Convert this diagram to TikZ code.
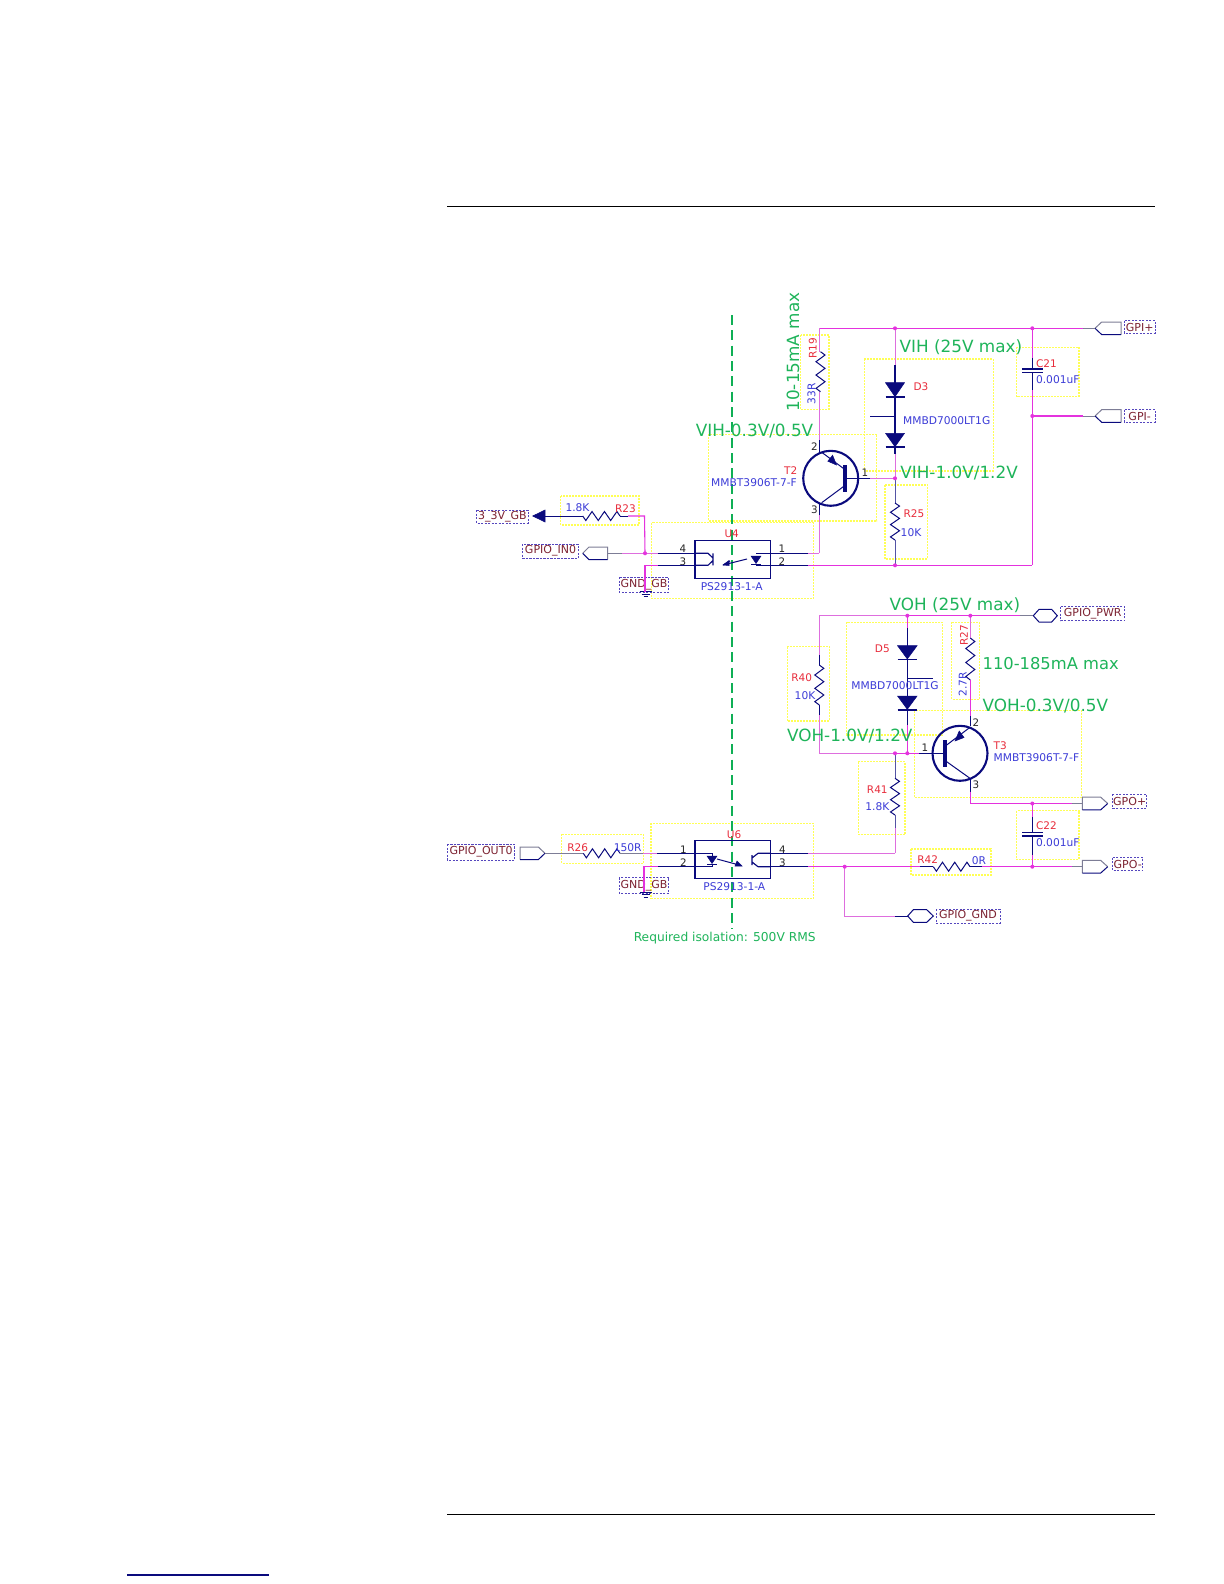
\documentclass[tikz,border=0pt]{standalone}
\usepackage{fontspec}
\setmainfont{DejaVu Sans}
\usetikzlibrary{arrows.meta}
\definecolor{wiremag}{RGB}{228,50,222}
\definecolor{wirelite}{RGB}{222,110,222}
\definecolor{navy}{RGB}{10,10,125}
\definecolor{boxyel}{RGB}{255,255,85}
\definecolor{refred}{RGB}{232,45,60}
\definecolor{valblue}{RGB}{60,60,215}
\definecolor{netred}{RGB}{125,35,50}
\definecolor{notegreen}{RGB}{30,180,90}
\definecolor{isogreen}{RGB}{15,175,85}
\definecolor{markgray}{RGB}{125,125,150}
\definecolor{netedge}{RGB}{85,70,190}
\tikzset{
  mag/.style={draw=wiremag,line width=.65pt},
  lite/.style={draw=wirelite,line width=.6pt},
  dark/.style={draw=navy,line width=.6pt},
  thickbar/.style={draw=navy,line width=1.9pt},
  ring/.style={draw=navy,line width=1.25pt},
  res/.style={draw=navy,line width=.6pt,line join=miter},
  yel/.style={draw=boxyel,line width=.65pt,dash pattern=on 1.2pt off .6pt},
  netb/.style={draw=netedge,line width=.4pt,dash pattern=on 1.3pt off .8pt},
  junc/.style={circle,fill=wiremag,inner sep=0pt,minimum size=2.4pt},
  redt/.style={text=refred,inner sep=0pt,font=\fontsize{6.3}{7}\selectfont},
  bluet/.style={text=valblue,inner sep=0pt,font=\fontsize{6.4}{7}\selectfont},
  nett/.style={text=netred,inner sep=0pt,font=\fontsize{6.6}{7}\selectfont},
  greent/.style={text=notegreen,inner sep=0pt,font=\fontsize{10.1}{12}\selectfont},
  pint/.style={text=black!85,inner sep=0pt,font=\fontsize{6.2}{7}\selectfont},
  markp/.style={draw=markgray,line width=.6pt},
  markd/.style={draw=navy,line width=.6pt},
  diodef/.style={fill=navy,draw=navy,line width=.3pt},
}
% vertical and horizontal resistor zigzags: #1 fixed, #2 #3 range
\newcommand{\zigv}[3]{\pgfmathsetmacro{\hh}{(#3-#2)/12}%
  \draw[res] (#1,#2) -- ++(4.5,\hh) -- ++(-9,2*\hh) -- ++(9,2*\hh) -- ++(-9,2*\hh) -- ++(9,2*\hh) -- ++(-9,2*\hh) -- ++(4.5,\hh);}
\newcommand{\zigh}[3]{\pgfmathsetmacro{\hh}{(#3-#2)/12}%
  \draw[res] (#2,#1) -- ++(\hh,4.5) -- ++(2*\hh,-9) -- ++(2*\hh,9) -- ++(2*\hh,-9) -- ++(2*\hh,9) -- ++(2*\hh,-9) -- ++(\hh,4.5);}
% net label box: name, x1, y1, x2, y2, text
\newcommand{\netbox}[6]{\draw[netb] (#2,#3) rectangle (#4,#5);
  \node[nett] (#1) at ({(#2+#4)/2},{(#3+#5)/2}) {#6};}
% diode pointing down: x, top y, tip y, half width
\newcommand{\diodeshape}[4]{\draw[diodef] (#1-#4,#2) -- (#1+#4,#2) -- (#1,#3) -- cycle;
  \draw[dark,line width=.9pt] (#1-#4,#3+.5) -- (#1+#4,#3+.5);}
% right-pointing marker: name, xleft, xshoulder, xtip, yc
\newcommand{\mkright}[5]{\coordinate (#1) at (#2,#5);
  \draw[markp] (#4,#5) -- (#3,#5-6.3) -- (#2,#5-6.3) -- (#2,#5+6.3);
  \draw[markd] (#2,#5+6.3) -- (#3,#5+6.3) -- (#4,#5);}
% left-pointing marker: name, xtip, xshoulder, xright, yc
\newcommand{\mkleft}[5]{\coordinate (#1) at (#4,#5);
  \draw[markp] (#2,#5) -- (#3,#5-6.3) -- (#4,#5-6.3) -- (#4,#5+6.3);
  \draw[markd] (#4,#5+6.3) -- (#3,#5+6.3) -- (#2,#5);}
% hexagon marker: name of left wire end, x1, x2, x3, x4, yc
\newcommand{\mkhex}[6]{\coordinate (#1) at (#2,#6);
  \draw[markd] (#2,#6) -- (#3,#6-6.3) -- (#4,#6-6.3) -- (#5,#6) -- (#4,#6+6.3) -- (#3,#6+6.3) -- cycle;}
\newcommand{\gndsym}[2]{\draw[dark,line width=.4pt] (#1-6,#2) -- (#1+6,#2) (#1-4,#2+2.5) -- (#1+4,#2+2.5) (#1-2,#2+5) -- (#1+2,#2+5);}
\begin{document}
\begin{tikzpicture}[x=0.6pt,y=-0.6pt]
\useasboundingbox (0,0) rectangle (1224,1584);
\fill[white] (0,0) rectangle (1224,1584);
% page furniture
\coordinate (ruleTL) at (447,206.3); \coordinate (ruleTR) at (1155,206.3);
\coordinate (ruleBL) at (447,1514.3); \coordinate (ruleBR) at (1155,1514.3);
\coordinate (linkL) at (127,1575); \coordinate (linkR) at (269,1575);
\draw[black,line width=.65pt] (ruleTL) -- (ruleTR);
\draw[black,line width=.65pt] (ruleBL) -- (ruleBR);
\draw[navy,line width=.65pt] (linkL) -- (linkR);

% yellow part outlines
\draw[yel] (560.7,496) rectangle (639,525);
\draw[yel] (651.7,522.7) rectangle (813.3,598.3);
\draw[yel] (800.7,335) rectangle (829,409.3);
\draw[yel] (864.3,359) rectangle (993.3,471);
\draw[yel] (708.3,434.3) rectangle (876.7,521);
\draw[yel] (885,485) rectangle (927.3,559);
\draw[yel] (1016.7,347.3) rectangle (1079,396.7);
\draw[yel] (787.3,646.7) rectangle (829.3,721);
\draw[yel] (846.7,622.3) rectangle (942.7,735);
\draw[yel] (951.7,622.3) rectangle (979.3,699.3);
\draw[yel] (914.3,710.7) rectangle (1081.7,797.3);
\draw[yel] (858.3,761.7) rectangle (905,834.3);
\draw[yel] (1016.7,810.7) rectangle (1079,859.3);
\draw[yel] (911,849) rectangle (991,875);
\draw[yel] (561.7,834.3) rectangle (643.3,863.3);
\draw[yel] (651,823.3) rectangle (813.3,898.3);

% isolation barrier
\coordinate (isoT) at (732,315); \coordinate (isoB) at (732,929);
\draw[draw=isogreen,line width=.65pt,dash pattern=on 6pt off 3.2pt] (isoT) -- (isoB);

% ---- junctions and wire points
\coordinate (topL) at (819.3,328.3);
\coordinate (jD3top) at (895,328.3);
\coordinate (jC21top) at (1032.3,328.3);
\coordinate (jGPIm) at (1032.3,416);
\coordinate (jBase2) at (895,478.3);
\coordinate (jBot2) at (895,565.3);
\coordinate (botR) at (1032.3,565.3);
\coordinate (jIn) at (645,553.3);
\coordinate (pwrL) at (819.3,615.7);
\coordinate (jD5top) at (907.3,615.7);
\coordinate (jR27top) at (970.3,615.7);
\coordinate (baseL) at (819.3,753.3);
\coordinate (jR41) at (895,753.3);
\coordinate (jD5bot) at (907.3,753.3);
\coordinate (col3) at (970.3,803.5);
\coordinate (jC22top) at (1032.3,803.5);
\coordinate (jC22bot) at (1032.3,866.7);
\coordinate (jGnd) at (844.7,866.7);

% ---- U4 region
\node[draw=navy,line width=.8pt,minimum width=45.2pt,minimum height=22.6pt,inner sep=0pt] (U4) at (732.6,559.5) {};
\node[redt] (U4ref) at (731.7,534) {U4};
\node[bluet] (U4val) at (731.7,586.7) {PS2913-1-A};
\node[pint] (p4a) at (683,549) {4};
\node[pint] (p3a) at (683,561.5) {3};
\node[pint] (p1a) at (782,549) {1};
\node[pint] (p2a) at (782,561.5) {2};
\coordinate (U4p4) at (695,553.3); \coordinate (U4p3) at (695,565.3);
\coordinate (U4p1) at (770.3,553.3); \coordinate (U4p2) at (770.3,565.3);
% inner opto symbol U4
\draw[dark,line width=.7pt] (713,553.3) -- (713,565.3)  (708,553.3) -- (713,558) (708,565.3) -- (713,560.5) (695,553.3) -- (708,553.3) (695,565.3) -- (708,565.3);
\draw[diodef] (751,556) -- (761,556) -- (756,563.5) -- cycle;
\draw[dark] (751,564) -- (761,564) (756,553.3) -- (770.3,553.3) (756,565.3) -- (770.3,565.3);
\draw[dark] (723,565) -- (747,559) (723,565) -- (730,561);
\draw[diodef] (723,565) -- (729,560.5) -- (729,565.5) -- cycle;

% GND and net at U4
\netbox{GB1}{619.3}{577.3}{668.7}{592.3}{GND\_GB}
\coordinate (gnd1) at (645,592);
\gndsym{645.5}{591.7}
\coordinate (c3left) at (645,565.3);
\coordinate (d3left) at (658,565.3);
\draw[mag] (c3left) -- (gnd1);
\draw[mag] (c3left) -- (d3left);
\draw[dark] (d3left) -- (U4p3);
\coordinate (d4left) at (658,553.3);
\draw[lite] (jIn) -- (d4left);
\draw[dark] (d4left) -- (U4p4);

% R23 and 3_3V
\netbox{V33}{476.7}{510}{528}{523}{3\_3V\_GB}
\coordinate (arrTip) at (532.7,516);
\coordinate (arrBase) at (545,516);
\draw[diodef] (arrTip) -- (545,510) -- (545,522) -- cycle;
\coordinate (R23a) at (582.7,516); \coordinate (R23b) at (620,516);
\draw[dark] (arrBase) -- (R23a);
\zigh{516}{582.7}{620}
\coordinate (R23c) at (644.5,516);
\draw[dark] (R23b) -- (628,516);
\draw[mag] (628,516) -- (R23c) -- (jIn);
\node[bluet] (R23v) at (577.5,508) {1.8K};
\node[redt] (R23r) at (625.5,509) {R23};

% GPIO_IN0
\netbox{IN0}{522.7}{544}{578.3}{558.3}{GPIO\_IN0}
\mkleft{mIn}{582.7}{589}{607.7}{553.3}
\coordinate (mInb) at (622,553.3);
\draw[markp] (mIn) -- (mInb);
\draw[lite] (mInb) -- (jIn);

% U4 right side
\coordinate (U4r1) at (808,553.3); \coordinate (U4r2) at (808,565.3);
\coordinate (U4c1) at (819.3,553.3);
\draw[dark] (U4p1) -- (U4r1);
\draw[dark] (U4p2) -- (U4r2);
\draw[lite] (U4r1) -- (U4c1);
\draw[mag] (U4r2) -- (jBot2) -- (botR);

% ---- upper rail
\coordinate (C21a) at (1032.3,358); \coordinate (C21b) at (1032.3,390);
\coordinate (gpipW) at (1083,328.3); \coordinate (gpimW) at (1083,416);
\draw[mag] (topL) -- (jD3top) -- (jC21top) -- (gpipW);
\draw[mag] (jC21top) -- (C21a);
\draw[mag] (C21b) -- (jGPIm) -- (botR);
\draw[mag] (jGPIm) -- (gpimW);
\mkleft{mGPIp}{1095}{1101.7}{1121}{328.3}
\mkleft{mGPIm}{1095}{1101.7}{1121}{416}
\draw[markp] (gpipW) -- (1095,328.3);
\draw[markp] (gpimW) -- (1095,416);
\netbox{GPIp}{1124.3}{320.7}{1155}{333.3}{GPI+}
\netbox{GPIm}{1124.3}{409.7}{1155}{422.3}{GPI-}

% C21
\draw[dark,line width=.9pt] (C21a) -- (1032.3,369) (1032.3,372.7) -- (C21b);
\draw[dark,line width=.9pt] (1022.3,369) -- (1043.3,369) (1022.3,372.7) -- (1043.3,372.7);
\node[redt,anchor=west] (C21r) at (1035.7,363.3) {C21};
\node[bluet,anchor=west] (C21v) at (1035.7,379.3) {0.001uF};

% R19
\coordinate (R19a) at (819.3,351.7); \coordinate (R19b) at (819.3,391.7);
\draw[lite] (topL) -- (R19a);
\zigv{820.5}{351.7}{391.7}
\coordinate (T2e) at (819.3,440);
\draw[lite] (R19b) -- (T2e);
\node[redt,rotate=90] (R19r) at (812.7,348) {R19};
\node[bluet,rotate=90] (R19v) at (811.5,394) {33R};
\node[greent,rotate=90] (n1) at (793,352) {10-15mA max};

% D3
\coordinate (D3a) at (895,365); \coordinate (D3b) at (895,454);
\draw[lite] (jD3top) -- (D3a);
\draw[dark,line width=.8pt] (D3a) -- (D3b);
\diodeshape{895}{382.7}{396.7}{9.5}
\diodeshape{895}{433.3}{446.7}{9.5}
\coordinate (D3s) at (870,416); \coordinate (D3m) at (895,416);
\draw[dark] (D3s) -- (D3m);
\draw[lite] (D3b) -- (jBase2);
\node[redt] (D3r) at (921,387) {D3};
\node[bluet] (D3v) at (946.7,421) {MMBD7000LT1G};

% T2
\node[ring,circle,minimum size=33pt,inner sep=0pt] (T2) at (830.7,478.3) {};
\coordinate (T2b1) at (845,478.3); \coordinate (T2b2) at (870,478.3);
\draw[thickbar] (845,465) -- (845,491.7);
\draw[dark,line width=.9pt] (T2b1) -- (T2b2);
\draw[lite] (T2b2) -- (jBase2);
\coordinate (T2ep) at (819.3,452); \coordinate (T2cp) at (819.3,503); \coordinate (T2cq) at (819.3,515);
\draw[dark,line width=.9pt] (T2e) -- (T2ep);
\draw[dark,line width=.9pt] (T2cp) -- (T2cq);
\draw[dark] (821.7,452.3) -- (843.3,468.3);
\draw[dark] (843.3,486.7) -- (821.7,502.7);
\draw[diodef] (836.5,465) -- (827.8,461.2) -- (832.6,455.2) -- cycle;
\draw[lite] (T2cq) -- (U4c1);
\node[pint] (T2p2) at (814.3,446.7) {2};
\node[pint] (T2p3) at (814.3,510) {3};
\node[pint] (T2p1) at (865,472.3) {1};
\node[redt] (T2r) at (790.7,471) {T2};
\node[bluet] (T2v) at (754,482.7) {MMBT3906T-7-F};

% R25
\coordinate (R25a) at (895,503); \coordinate (R25b) at (895,540);
\draw[dark,draw=navy!70!white] (jBase2) -- (R25a);
\zigv{895}{503}{540}
\draw[dark,draw=navy!70!white] (R25b) -- (jBot2);
\node[redt] (R25r) at (914,514) {R25};
\node[bluet] (R25v) at (911,532.3) {10K};

% green notes upper
\node[greent,anchor=west] (n2) at (899.3,347) {VIH (25V max)};
\node[greent] (n3) at (754.5,430.7) {VIH-0.3V/0.5V};
\node[greent,anchor=west] (n4) at (900,472.7) {VIH-1.0V/1.2V};

% ---- lower rail
\coordinate (mPwrW) at (1020,615.7);
\draw[lite] (pwrL) -- (jD5top);
\draw[mag] (jD5top) -- (jR27top) -- (mPwrW);
\mkhex{mPwr}{1033.3}{1039}{1051.7}{1057.3}{615.7}
\draw[markp] (mPwrW) -- (mPwr);
\netbox{PWR}{1060.7}{606.7}{1124.7}{620.7}{GPIO\_PWR}

% R40
\coordinate (R40a) at (819.3,655); \coordinate (R40b) at (819.3,715);
\draw[lite] (pwrL) -- (R40a);
\draw[dark] (R40a) -- (819.3,665) (819.3,705) -- (R40b);
\zigv{819.3}{665}{705}
\draw[lite] (R40b) -- (baseL) -- (jR41);
\draw[mag] (jR41) -- (jD5bot) -- (919.3,753.3);
\node[redt] (R40r) at (801.7,677.3) {R40};
\node[bluet] (R40v) at (805,695.3) {10K};

% D5
\coordinate (D5a) at (907.3,628.3); \coordinate (D5b) at (907.3,725);
\draw[mag] (jD5top) -- (D5a);
\draw[dark,line width=.8pt] (D5a) -- (D5b);
\diodeshape{907.3}{645.7}{659}{9.8}
\diodeshape{907.3}{696}{709.3}{9.8}
\coordinate (D5m) at (907.3,678.3); \coordinate (D5s) at (932.7,678.3);
\draw[dark] (D5m) -- (D5s);
\draw[mag] (D5b) -- (jD5bot);
\node[redt] (D5r) at (882.3,649) {D5};
\node[bluet] (D5v) at (895,686) {MMBD7000LT1G};

% R27
\coordinate (R27a) at (970.3,638); \coordinate (R27b) at (970.3,680); \coordinate (T3e) at (970.3,716);
\draw[lite] (jR27top) -- (R27a);
\zigv{970.3}{638}{680}
\draw[mag] (R27b) -- (T3e);
\node[redt,rotate=90] (R27r) at (964,635) {R27};
\node[bluet,rotate=90] (R27v) at (962.7,684.3) {2.7R};

% T3
\node[ring,circle,minimum size=33pt,inner sep=0pt] (T3) at (960,753.3) {};
\coordinate (T3b0) at (919.3,753.3); \coordinate (T3b1) at (945,753.3);
\draw[thickbar] (945,740) -- (945,767.3);
\draw[dark,line width=.9pt] (T3b0) -- (T3b1);
\coordinate (T3ep) at (970.3,726); \coordinate (T3cp) at (970.3,778.3); \coordinate (T3cq) at (970.3,791.7);
\draw[dark,line width=.9pt] (T3e) -- (T3ep);
\draw[dark,line width=.9pt] (T3cp) -- (T3cq);
\draw[dark] (946.7,745) -- (970,727.3);
\draw[dark] (946.7,761.7) -- (970,778.3);
\draw[diodef] (955,741) -- (964,737.5) -- (959.2,731) -- cycle;
\coordinate (mGPOpW) at (1071.7,803.5); \coordinate (mGPOmW) at (1071.7,866.7);
\draw[mag] (T3cq) -- (col3) -- (jC22top) -- (mGPOpW);
\node[pint] (T3p2) at (976,722.3) {2};
\node[pint] (T3p3) at (976,785) {3};
\node[pint] (T3p1) at (925,747.7) {1};
\node[redt,anchor=west] (T3r) at (993.3,745.7) {T3};
\node[bluet,anchor=west] (T3v) at (993.3,757.7) {MMBT3906T-7-F};

% GPO+ / GPO-
\mkright{mGPOp}{1082.3}{1100.7}{1107.7}{803.5}
\mkright{mGPOm}{1082.3}{1100.7}{1107.7}{866.7}
\draw[markp] (mGPOpW) -- (mGPOp);
\draw[markp] (mGPOmW) -- (mGPOm);
\netbox{GPOp}{1112.7}{794.3}{1146.7}{808.3}{GPO+}
\netbox{GPOm}{1112.7}{857.7}{1142.7}{870.7}{GPO-}

% C22
\coordinate (C22a) at (1032.3,817); \coordinate (C22b) at (1032.3,855);
\draw[mag] (jC22top) -- (C22a);
\draw[dark,line width=.9pt] (C22a) -- (1032.3,832.7) (1032.3,836) -- (C22b);
\draw[dark,line width=.9pt] (1022.3,832.7) -- (1043.3,832.7) (1022.3,836) -- (1043.3,836);
\draw[mag] (C22b) -- (jC22bot);
\node[redt,anchor=west] (C22r) at (1035.7,826) {C22};
\node[bluet,anchor=west] (C22v) at (1035.7,842.7) {0.001uF};

% R41
\coordinate (R41a) at (895,778.3); \coordinate (R41b) at (895,815); \coordinate (R41c) at (895,828); \coordinate (R41d) at (895,853.3);
\draw[dark,draw=navy!70!white] (jR41) -- (R41a);
\zigv{895}{778.3}{815}
\draw[dark,draw=navy!70!white] (R41b) -- (R41c);
\draw[lite] (R41c) -- (R41d);
\node[redt] (R41r) at (877.3,790) {R41};
\node[bluet] (R41v) at (877.3,806.7) {1.8K};

% green notes lower
\node[greent,anchor=west] (n5) at (889.3,605) {VOH (25V max)};
\node[greent,anchor=west,font=\fontsize{9.8}{12}\selectfont] (n6) at (982.3,663.3) {110-185mA max};
\node[greent,anchor=west] (n7) at (982.3,705.7) {VOH-0.3V/0.5V};
\node[greent,anchor=west] (n8) at (786.7,735.7) {VOH-1.0V/1.2V};

% ---- U6 region
\node[draw=navy,line width=.8pt,minimum width=45.2pt,minimum height=22.6pt,inner sep=0pt] (U6) at (732.6,859.5) {};
\node[redt] (U6ref) at (734,834.3) {U6};
\node[bluet] (U6val) at (734.3,886.7) {PS2913-1-A};
\node[pint] (q1) at (683.3,850) {1};
\node[pint] (q2) at (683.3,862.3) {2};
\node[pint] (q4) at (782.3,850) {4};
\node[pint] (q3) at (782.3,862.3) {3};
\coordinate (U6p1) at (695,853.3); \coordinate (U6p2) at (695,866.7);
\coordinate (U6p4) at (770.3,853.3); \coordinate (U6p3) at (770.3,866.7);
% inner opto symbol U6
\draw[diodef] (707,856) -- (717,856) -- (712,863.5) -- cycle;
\draw[dark] (707,864) -- (717,864) (695,853.3) -- (712,853.3) -- (712,856) (712,864) -- (712,866.7) -- (695,866.7);
\draw[dark,line width=.7pt] (752,855) -- (752,865) (758,853.3) -- (752,858) (758,866.7) -- (752,862) (758,853.3) -- (770.3,853.3) (758,866.7) -- (770.3,866.7);
\draw[dark] (717,859) -- (741,865.5);
\draw[diodef] (742,866) -- (735,866) -- (737,861) -- cycle;

\netbox{GB2}{619.3}{877.7}{668.7}{893.3}{GND\_GB}
\coordinate (gnd2) at (644,892);
\gndsym{645.5}{892}
\coordinate (c2left) at (644,866.7); \coordinate (d2left) at (658,866.7);
\draw[mag] (gnd2) -- (c2left) -- (d2left);
\draw[dark] (d2left) -- (U6p2);

% GPIO_OUT0 and R26
\netbox{OUT0}{447.3}{844.3}{514.7}{860}{GPIO\_OUT0}
\mkright{mOut}{520}{538.3}{545}{853.3}
\coordinate (mOutW) at (545,853.3); \coordinate (R26a) at (583.3,853.3); \coordinate (R26b) at (620,853.3);
\coordinate (R26c) at (643,853.3); \coordinate (R26d) at (657,853.3);
\draw[markp] (mOutW) -- (R26a);
\zigh{853.3}{583.3}{620}
\draw[markp] (R26b) -- (R26c);
\draw[lite] (R26c) -- (R26d);
\draw[dark] (R26d) -- (U6p1);
\node[redt] (R26r) at (577.7,847.3) {R26};
\node[bluet] (R26v) at (627.7,847.3) {150R};

% U6 right side
\coordinate (U6r4) at (808,853.3); \coordinate (U6r3) at (808,866.7);
\draw[dark] (U6p4) -- (U6r4);
\draw[dark] (U6p3) -- (U6r3);
\draw[lite] (U6r4) -- (R41d);
\coordinate (R42a) at (920,866.7); \coordinate (R42b) at (933.3,866.7); \coordinate (R42c) at (970,866.7); \coordinate (R42d) at (981.7,866.7);
\draw[mag] (U6r3) -- (jGnd) -- (R42a);
\draw[dark] (R42a) -- (R42b);
\zigh{866.7}{933.3}{970}
\draw[dark] (R42c) -- (R42d);
\draw[mag] (R42d) -- (jC22bot) -- (mGPOmW);
\node[redt] (R42r) at (927.7,860) {R42};
\node[bluet] (R42v) at (979,861) {0R};

% GPIO_GND
\coordinate (gGndC) at (844.7,916); \coordinate (gGndW) at (895,916);
\mkhex{mGnd}{907.7}{913.3}{926.7}{933.3}{916}
\draw[lite] (jGnd) -- (gGndC) -- (gGndW);
\draw[dark] (gGndW) -- (mGnd);
\netbox{GGND}{936}{909.3}{1000}{923}{GPIO\_GND}

\node[text=notegreen,inner sep=0pt,font=\fontsize{7.35}{8}\selectfont] (iso) at (724.7,938) {Required isolation: 500V RMS};

% junction dots
\foreach \j in {jD3top,jC21top,jGPIm,jBase2,jBot2,jIn,jD5top,jR27top,jR41,jD5bot,jC22top,jC22bot,jGnd}
  \node[junc] at (\j) {};
\end{tikzpicture}
\end{document}
